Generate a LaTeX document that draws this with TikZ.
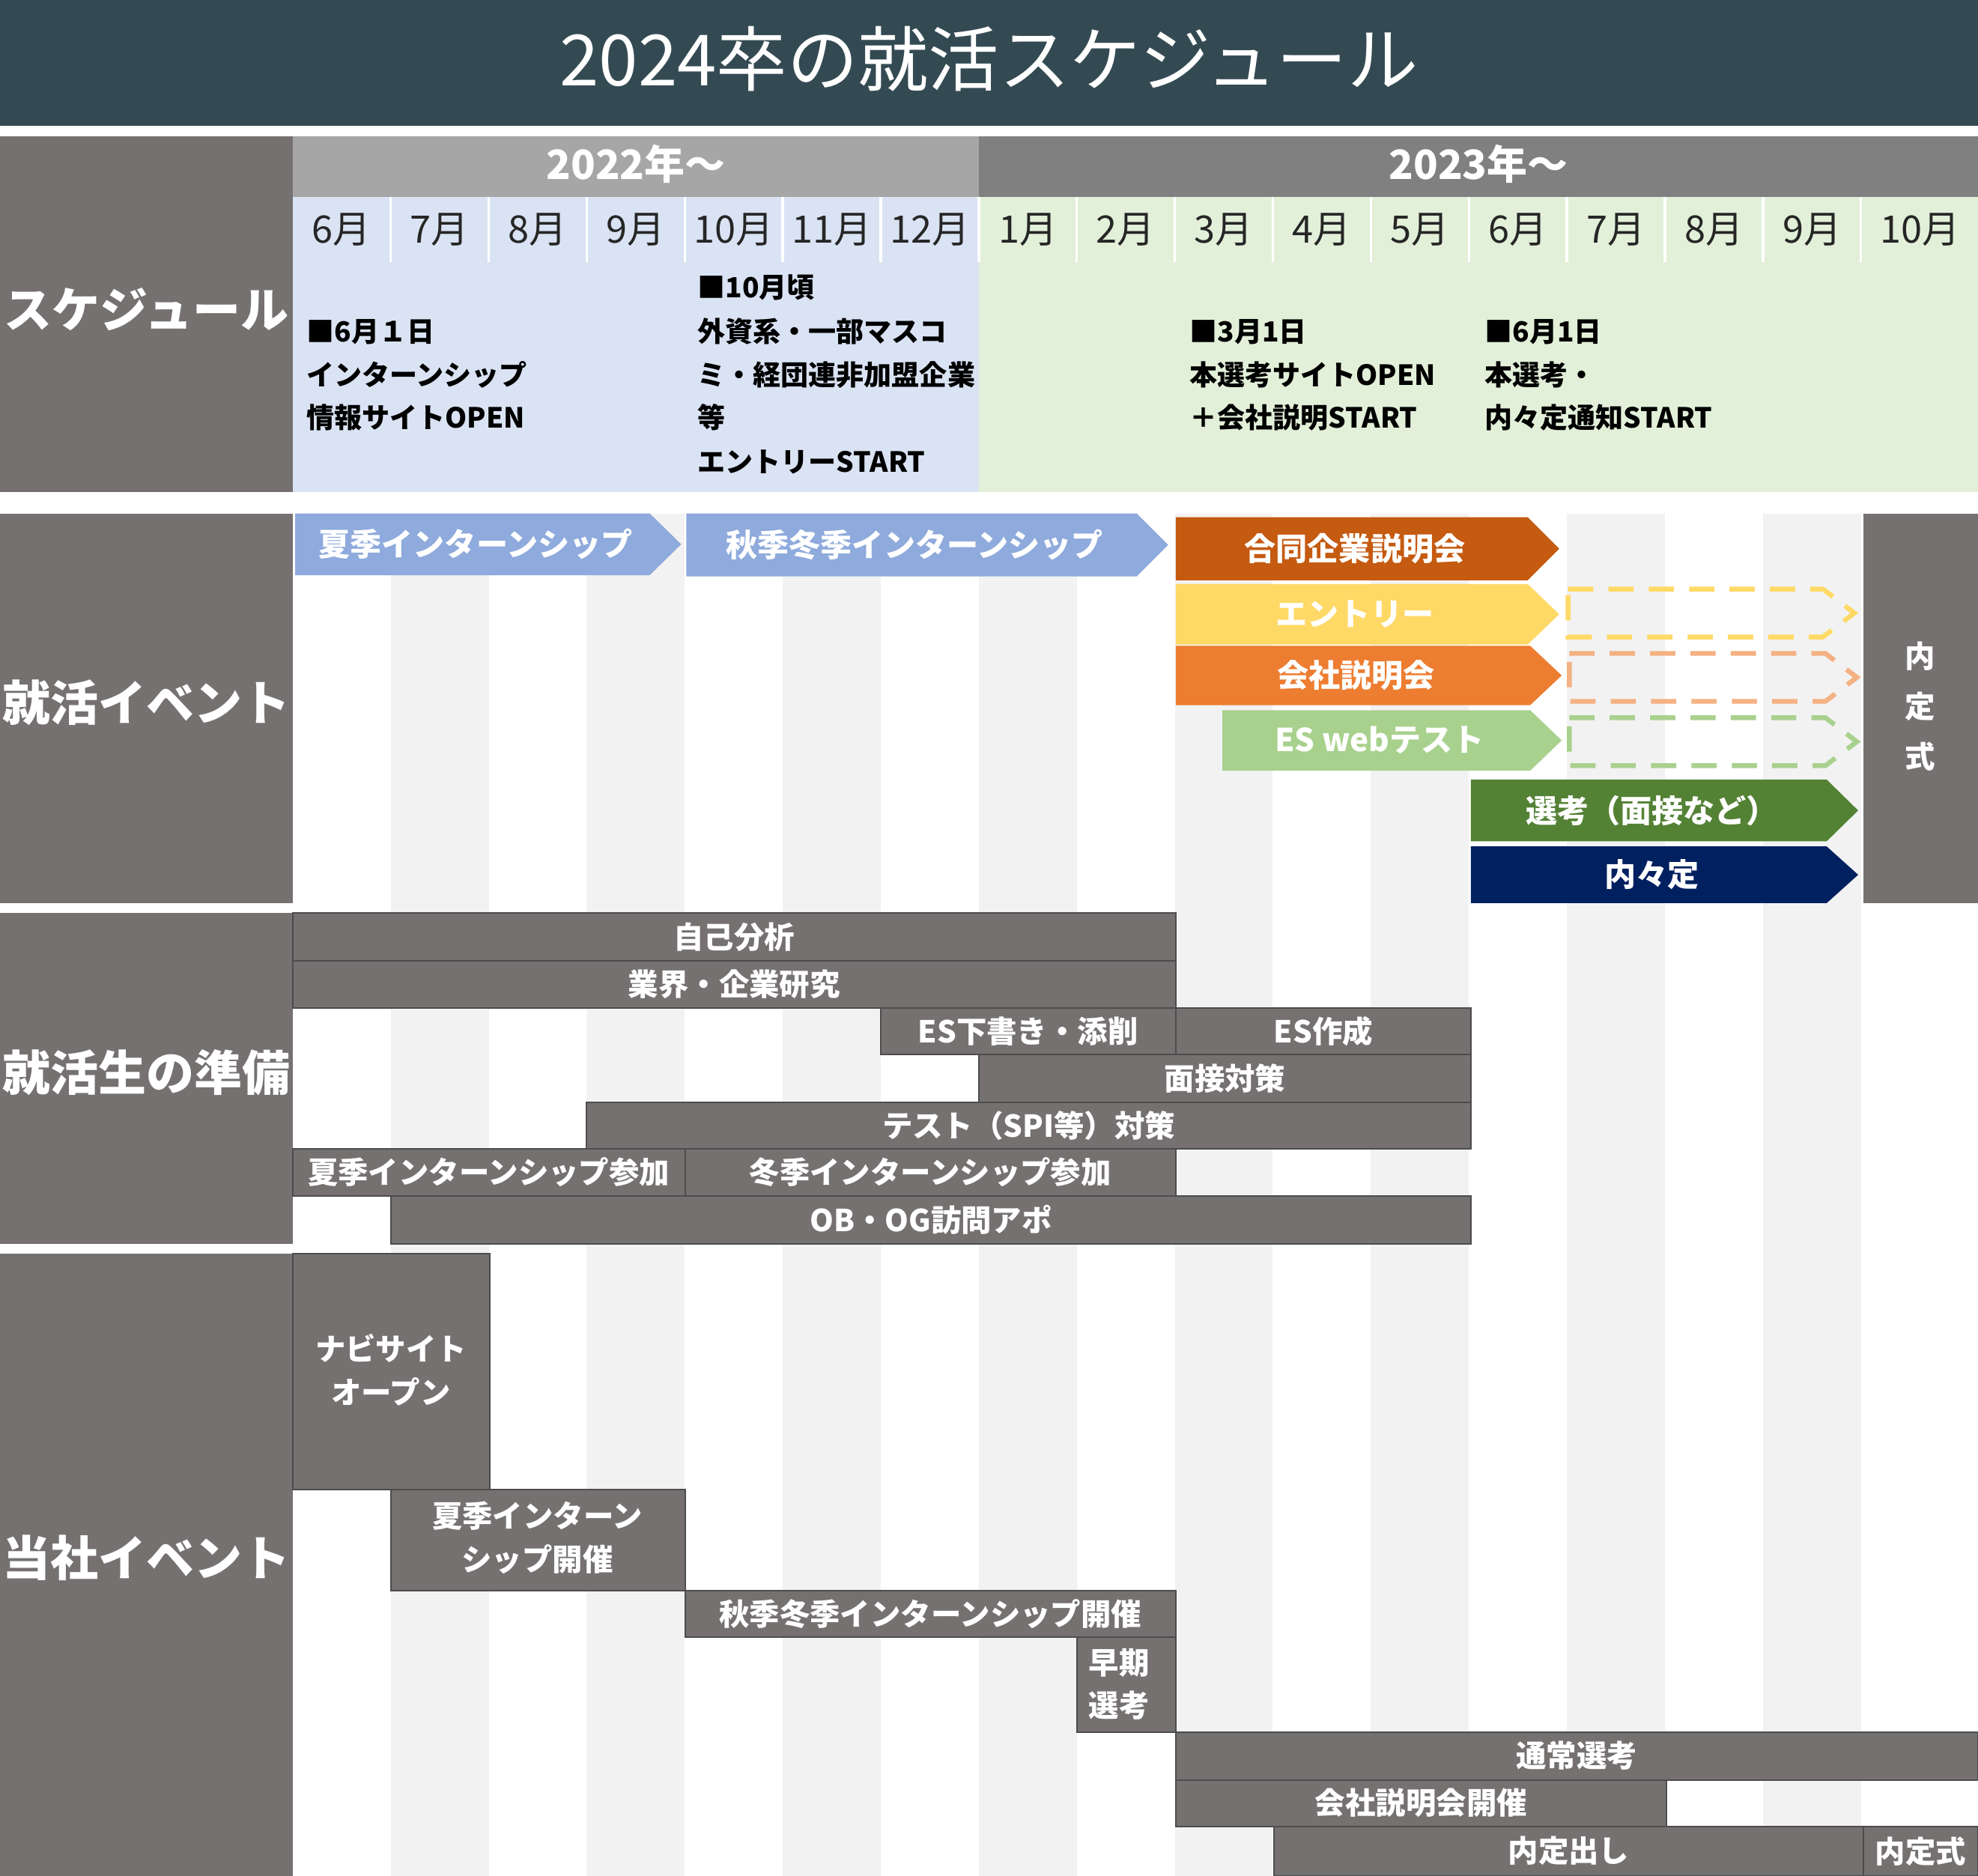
\documentclass[tikz,border=0pt]{standalone}
\usepackage{fontspec}
\setmainfont{Noto Sans CJK JP}
\definecolor{titlebg}{HTML}{344A53}
\definecolor{lab}{HTML}{767171}
\definecolor{stripe}{HTML}{F2F2F2}
\definecolor{lblue}{HTML}{DAE3F3}
\definecolor{lgreen}{HTML}{E2F0D9}
\definecolor{y22}{HTML}{A6A6A6}
\definecolor{y23}{HTML}{808080}
\definecolor{cblue}{HTML}{8FAADC}
\definecolor{cbrown}{HTML}{C55A11}
\definecolor{cyel}{HTML}{FFD966}
\definecolor{corg}{HTML}{ED7D31}
\definecolor{cgrn}{HTML}{A9D18E}
\definecolor{cdgrn}{HTML}{548235}
\definecolor{cnavy}{HTML}{002060}
\definecolor{dyel}{HTML}{FFD966}
\definecolor{dorg}{HTML}{F4B183}
\definecolor{dgrn}{HTML}{A9D18E}
\tikzset{
  barstyle/.style={fill=lab,draw=black!70,line width=0.6pt},
  bartext/.style={text=white,font=\fontsize{12}{14}\selectfont\bfseries,align=center},
  sched/.style={anchor=west,font=\fontsize{11}{13}\selectfont\bfseries,text=black},
  lefttext/.style={text=white,font=\fontsize{19}{22}\selectfont\bfseries},
  month/.style={font=\fontsize{15}{17}\selectfont,text=black!85},
  dashchev/.style={line width=1.9pt,dash pattern=on 10pt off 6pt},
}
\newcommand\chev[6]{%
  \fill[#6] (#1,#2) -- ({#3-25},#2) -- (#3,{(#2+#4)/2}) -- ({#3-25},#4) -- (#1,#4) -- cycle;
  \node[bartext,font=\fontsize{12.5}{14}\selectfont\bfseries] at ({(#1+#3-20)/2},{(#2+#4)/2}) {#5};}
\newcommand\dchev[5]{%
  \draw[dashchev,#5] (#1,#2) -- ({#3-25},#2) -- (#3,{(#2+#4)/2}) -- ({#3-25},#4) -- (#1,#4) -- cycle;}
\newcommand\gbar[5]{%
  \draw[barstyle] (#1,#2) rectangle (#3,#4) node[midway,bartext]{#5};}
\begin{document}
\begin{tikzpicture}[x=0.5pt,y=-0.5pt]
\useasboundingbox (0,0) rectangle (1568,1487);
\fill[white] (0,0) rectangle (1568,1487);
% title
\fill[titlebg] (0,0) rectangle (1568,100);
\node[text=white,font=\fontsize{28}{32}\selectfont] (title) at (784,47) {2024卒の就活スケジュール};
% stripes
\foreach \i in {1,3,5,7,9,11,13,15}{
  \fill[stripe] ({232+\i*77.7},407) rectangle ({232+(\i+1)*77.7},1487);
}
% header
\fill[y22] (232,108) rectangle (776,156);
\fill[y23] (776,108) rectangle (1568,156);
\node[text=white,font=\fontsize{16}{18}\selectfont\bfseries] (y1) at (504,130) {2022年～};
\node[text=white,font=\fontsize{16}{18}\selectfont\bfseries] (y2) at (1172,130) {2023年～};
\fill[lblue] (232,156) rectangle (776,390);
\fill[lgreen] (776,156) rectangle (1568,390);
\foreach \m [count=\i from 0] in {6月,7月,8月,9月,10月,11月,12月,1月,2月,3月,4月,5月,6月,7月,8月,9月}{
  \node[month] at ({232+(\i+0.5)*77.7},182) {\m};
  \draw[white,line width=1pt] ({232+(\i+1)*77.7},156) -- ({232+(\i+1)*77.7},208);
}
\node[month] at (1522,182) {10月};
% schedule texts
\node[sched] at (236,263) {■6月１日};
\node[sched] at (236,297) {インターンシップ};
\node[sched] at (236,331) {情報サイトOPEN};
\node[sched] at (546,228) {■10月頃};
\node[sched] at (546,263) {外資系・一部マスコ};
\node[sched] at (546,297) {ミ・経団連非加盟企業};
\node[sched] at (546,331) {等};
\node[sched] at (546,366) {エントリーSTART};
\node[sched] at (936,263) {■3月1日};
\node[sched] at (936,297) {本選考サイトOPEN};
\node[sched] at (936,331) {＋会社説明START};
\node[sched] at (1170,263) {■6月1日};
\node[sched] at (1170,297) {本選考・};
\node[sched] at (1170,331) {内々定通知START};
% left labels
\fill[lab] (0,108) rectangle (232,390);
\fill[lab] (0,407) rectangle (232,716);
\fill[lab] (0,724) rectangle (232,986);
\fill[lab] (0,994) rectangle (232,1487);
\node[lefttext] (l1) at (116,245) {スケジュール};
\node[lefttext] (l2) at (116,557) {就活イベント};
\node[lefttext] (l3) at (116,850) {就活生の準備};
\node[lefttext] (l4) at (116,1235) {当社イベント};
% events
\chev{234}{407}{540}{456}{夏季インターンシップ}{cblue}
\chev{544}{407}{926}{457}{秋季冬季インターンシップ}{cblue}
\chev{932}{410}{1236}{460}{合同企業説明会}{cbrown}
\chev{932}{463}{1236}{511}{エントリー}{cyel}
\chev{932}{512}{1238}{559}{会社説明会}{corg}
\chev{969}{563}{1238}{611}{ES webテスト}{cgrn}
\chev{1166}{618}{1473}{667}{選考（面接など）}{cdgrn}
\chev{1166}{671}{1473}{716}{内々定}{cnavy}
\dchev{1243}{467}{1470}{505}{dyel}
\dchev{1244}{518}{1472}{556}{dorg}
\dchev{1244}{569}{1472}{607}{dgrn}
\fill[lab] (1477,407) rectangle (1568,716);
\node[bartext,align=center] (naiteishiki) at (1522,560) {内\\[6pt]定\\[6pt]式};
% preparation
\gbar{232}{724}{932}{762}{自己分析}
\gbar{232}{762}{932}{799}{業界・企業研究}
\gbar{698}{799}{932}{836}{ES下書き・添削}
\gbar{932}{799}{1166}{836}{ES作成}
\gbar{776}{836}{1166}{874}{面接対策}
\gbar{465}{874}{1166}{911}{テスト（SPI等）対策}
\gbar{232}{911}{543}{948}{夏季インターンシップ参加}
\gbar{543}{911}{932}{948}{冬季インターンシップ参加}
\gbar{310}{948}{1166}{986}{OB・OG訪問アポ}
% company
\draw[barstyle] (232,994) rectangle (388,1181);
\node[bartext] (navi) at (310,1086) {ナビサイト\\[3pt]オープン};
\draw[barstyle] (310,1181) rectangle (543,1261);
\node[bartext] (summer) at (426,1219) {夏季インターン\\[3pt]シップ開催};
\gbar{543}{1261}{932}{1298}{秋季冬季インターンシップ開催}
\draw[barstyle] (854,1298) rectangle (932,1373);
\node[bartext,align=left,anchor=west] (early) at (856,1335) {早期\\[3pt]選考};
\gbar{932}{1373}{1568}{1411}{通常選考}
\gbar{932}{1411}{1321}{1448}{会社説明会開催}
\gbar{1010}{1448}{1477}{1487}{内定出し}
\gbar{1477}{1448}{1568}{1487}{内定式}
\end{tikzpicture}
\end{document}
